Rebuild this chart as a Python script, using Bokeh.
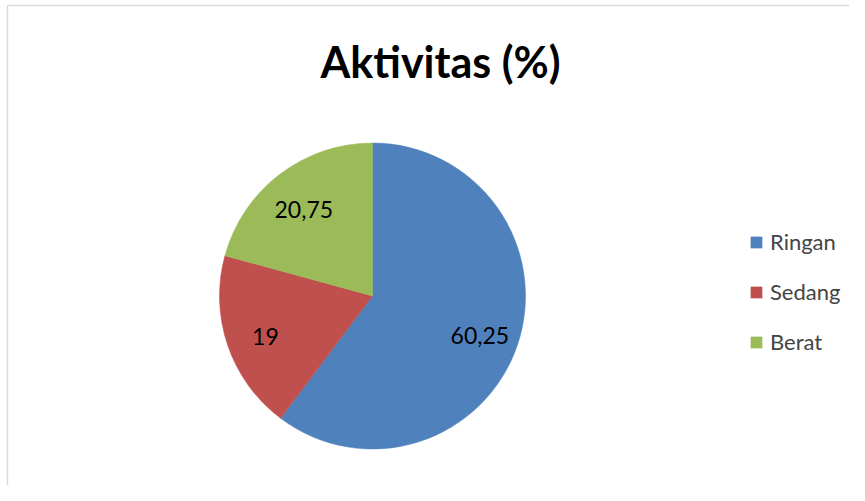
import math
from bokeh.plotting import figure
from bokeh.models import (ColumnDataSource, Range1d, Legend, LegendItem, Label,
                          BoxAnnotation)
from bokeh.core.properties import value
from bokeh.embed import file_html
from bokeh.resources import INLINE

# ---- data ----
categories = ["Ringan", "Sedang", "Berat"]
values = [60.25, 19, 20.75]
label_texts = ["60,25", "19", "20,75"]
colors = ["#4F81BD", "#C0504D", "#9BBB59"]
title_text = "Aktivitas (%)"

W, H = 849, 485
FONT = "Lato"

p = figure(width=W, height=H, output_backend="svg", toolbar_location=None,
           x_range=Range1d(0, W), y_range=Range1d(0, H), min_border=0)
p.axis.visible = False
p.grid.visible = False
p.outline_line_color = None
p.background_fill_color = "white"
p.border_fill_color = "white"

# chart-area border (only left and top edges visible, like the reference crop)
p.add_layout(BoxAnnotation(left=7, right=W + 20, top=H - 5, bottom=-20,
                           fill_alpha=0, line_color="#868686", line_width=1.5))

cx, cy, r = 372, 189.5, 153
total = sum(values)
starts, ends, lx, ly = [], [], [], []
cum = 0.0
for v in values:
    a0 = math.pi / 2 - 2 * math.pi * cum / total
    cum += v
    a1 = math.pi / 2 - 2 * math.pi * cum / total
    starts.append(a0)
    ends.append(a1)
    mid = (a0 + a1) / 2
    lx.append(cx + 0.74 * r * math.cos(mid))
    ly.append(cy + 0.74 * r * math.sin(mid) - 4)

src = ColumnDataSource(dict(name=categories, val=values, start=starts, end=ends,
                            color=colors, lx=lx, ly=ly, lab=label_texts))

wr = p.wedge(x=cx, y=cy, radius=r, start_angle="start", end_angle="end",
             direction="clock", fill_color="color", line_color="color",
             line_width=0.5, source=src)

p.text(x="lx", y="ly", text="lab", source=src, text_align="center",
       text_baseline="middle", text_font=value(FONT), text_font_size="23px",
       text_color="black")

p.add_layout(Label(x=440, y=H - 61, x_units="data", y_units="data", text=title_text,
                   text_align="center", text_baseline="middle",
                   text_font=FONT, text_font_style="bold", text_font_size="43px",
                   text_color="black"))

items = [LegendItem(label=categories[i], renderers=[wr], index=i) for i in range(3)]
legend = Legend(items=items, location=(749, 130), orientation="vertical",
                glyph_width=14, glyph_height=14, label_height=20,
                spacing=23, padding=0, margin=0, label_standoff=7,
                label_text_font=FONT, label_text_font_size="22px",
                border_line_color=None, background_fill_alpha=0)
p.add_layout(legend, "center")

open("out.html", "w").write(file_html(p, INLINE))
